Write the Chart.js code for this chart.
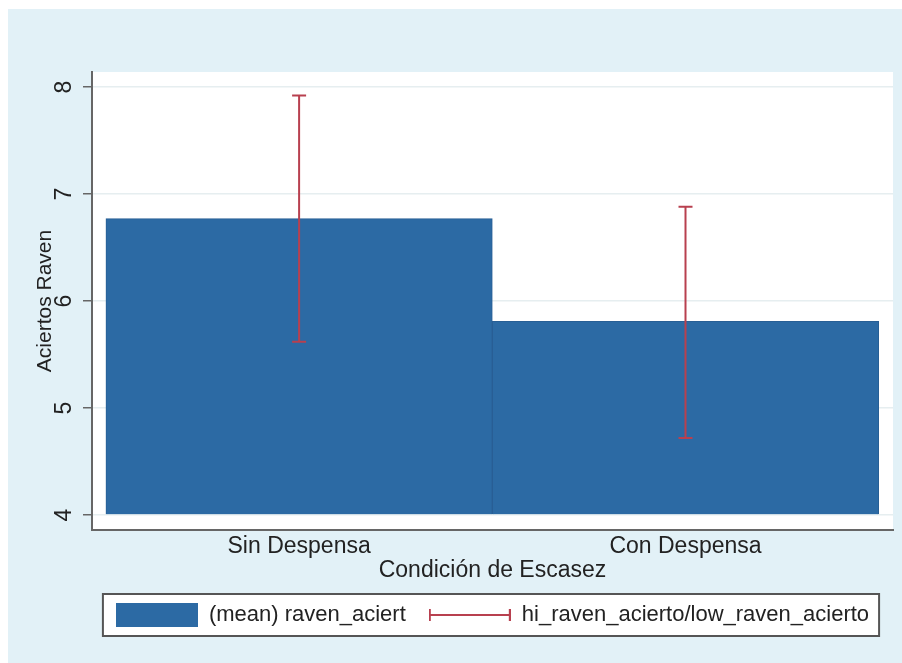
<!DOCTYPE html>
<html lang="es">
<head>
<meta charset="utf-8">
<title>Aciertos Raven por condición de escasez</title>
<script src="https://cdn.jsdelivr.net/npm/chart.js@4.4.1/dist/chart.umd.min.js"></script>
<style>
    html, body { margin: 0; padding: 0; background: #ffffff; }
    #wrap {
        position: absolute;
        left: 8px;
        top: 9px;
        width: 894px;
        height: 654px;
        background: #e2f1f7;
    }
    canvas { display: block; }
</style>
</head>
<body>
<div id="wrap"><canvas id="ravenChart" width="894" height="654"></canvas></div>
<script>
// Values
const categories = ['Sin Despensa', 'Con Despensa'];
const meanValues = [6.77, 5.81];
const hiValues = [7.92, 6.88];
const lowValues = [5.62, 4.72];
const yTicks = [4, 5, 6, 7, 8];
const legendLabels = ['(mean) raven_aciert', 'hi_raven_acierto/low_raven_acierto'];

// Colours
const BAR_COLOR = '#2c6aa4';
const BAR_EDGE = '#285f95';
const ERR_COLOR = '#b8404f';
const AXIS_COLOR = '#666666';
const GRID_COLOR = '#e6eef0';
const TEXT_COLOR = '#222222';

const FONT_FAMILY = "'Liberation Sans', Arial, Helvetica, sans-serif";
const baseFont = { family: FONT_FAMILY, size: 23 };

// Legend key: solid bar swatch
function makeSwatch() {
    const c = document.createElement('canvas');
    c.width = 82;
    c.height = 24;
    const g = c.getContext('2d');
    g.fillStyle = BAR_COLOR;
    g.fillRect(0, 0, 82, 24);
    return c;
}

// Legend key: horizontal capped line
function makeErrorKey() {
    const c = document.createElement('canvas');
    c.width = 82;
    c.height = 12;
    const g = c.getContext('2d');
    g.strokeStyle = ERR_COLOR;
    g.lineWidth = 2;
    g.beginPath();
    g.moveTo(1, 6); g.lineTo(81, 6);
    g.moveTo(1, 0); g.lineTo(1, 12);
    g.moveTo(81, 0); g.lineTo(81, 12);
    g.stroke();
    return c;
}

// White plot region + white legend panel
const plotBackground = {
    id: 'plotBackground',
    beforeDraw(chart) {
        const { ctx, chartArea } = chart;
        ctx.save();
        ctx.fillStyle = '#ffffff';
        ctx.fillRect(chartArea.left, chartArea.top, chartArea.right - chartArea.left, chartArea.bottom - chartArea.top);
        const frame = legendRect(chart);
        if (frame) ctx.fillRect(frame.x, frame.y, frame.w, frame.h);
        ctx.restore();
    },
    afterDraw(chart) {
        const frame = legendRect(chart);
        if (!frame) return;
        const ctx = chart.ctx;
        ctx.save();
        ctx.strokeStyle = '#555555';
        ctx.lineWidth = 2;
        ctx.strokeRect(frame.x, frame.y, frame.w, frame.h);
        ctx.restore();
    }
};

function legendRect(chart) {
    const boxes = chart.legend && chart.legend.legendHitBoxes;
    if (!boxes || !boxes.length) return null;
    const first = boxes[0];
    const last = boxes[boxes.length - 1];
    return {
        x: first.left - 13,
        y: first.top - 10,
        w: last.left + last.width - first.left + 23,
        h: first.height + 20
    };
}

// Hi/low range bars drawn on top of the means
const errorBars = {
    id: 'errorBars',
    afterDatasetsDraw(chart) {
        const { ctx, scales: { x, y } } = chart;
        const cap = 7;
        ctx.save();
        ctx.strokeStyle = ERR_COLOR;
        ctx.lineWidth = 2;
        categories.forEach((c, i) => {
            const px = x.getPixelForValue(i);
            const top = y.getPixelForValue(hiValues[i]);
            const bottom = y.getPixelForValue(lowValues[i]);
            ctx.beginPath();
            ctx.moveTo(px, top); ctx.lineTo(px, bottom);
            ctx.moveTo(px - cap, top); ctx.lineTo(px + cap, top);
            ctx.moveTo(px - cap, bottom); ctx.lineTo(px + cap, bottom);
            ctx.stroke();
        });
        ctx.restore();
    }
};

new Chart(document.getElementById('ravenChart'), {
    type: 'bar',
    data: {
        datasets: [{
            label: legendLabels[0],
            data: categories.map((c, i) => ({ x: i, y: meanValues[i] })),
            base: yTicks[0],
            backgroundColor: BAR_COLOR,
            borderColor: BAR_EDGE,
            borderWidth: 1,
            barPercentage: 1,
            categoryPercentage: 1
        }]
    },
    options: {
        responsive: false,
        devicePixelRatio: 1,
        animation: false,
        layout: { padding: { top: 63, right: 9, bottom: 27, left: 0 } },
        plugins: {
            tooltip: { enabled: false },
            legend: {
                position: 'bottom',
                fullSize: false,
                labels: {
                    usePointStyle: true,
                    pointStyleWidth: 82,
                    padding: 23,
                    font: { family: FONT_FAMILY, size: 22 },
                    color: TEXT_COLOR,
                    generateLabels: () => [
                        { text: legendLabels[0], pointStyle: makeSwatch(), fontColor: TEXT_COLOR, lineWidth: 0, hidden: false },
                        { text: legendLabels[1], pointStyle: makeErrorKey(), fontColor: TEXT_COLOR, lineWidth: 0, hidden: false }
                    ]
                }
            }
        },
        scales: {
            x: {
                type: 'linear',
                offset: false,
                min: -0.536,
                max: 1.537,
                afterBuildTicks: s => { s.ticks = categories.map((c, i) => ({ value: i })); },
                afterFit: s => { s.height = 51; },
                grid: { display: false, drawTicks: false },
                border: { color: AXIS_COLOR, width: 2 },
                ticks: {
                    callback: v => categories[v],
                    padding: 3,
                    maxRotation: 0,
                    font: baseFont,
                    color: TEXT_COLOR
                },
                title: {
                    display: true,
                    text: 'Condición de Escasez',
                    padding: { top: 0, bottom: -3 },
                    font: baseFont,
                    color: TEXT_COLOR
                }
            },
            y: {
                min: 3.86,
                max: 8.14,
                afterBuildTicks: s => { s.ticks = yTicks.map(v => ({ value: v })); },
                afterFit: s => { s.width = 84; },
                grid: { color: GRID_COLOR, lineWidth: 1.5, tickColor: AXIS_COLOR, tickLength: 9, tickWidth: 1.5 },
                border: { color: AXIS_COLOR, width: 2 },
                ticks: {
                    minRotation: 90,
                    maxRotation: 90,
                    crossAlign: 'center',
                    padding: 12,
                    font: baseFont,
                    color: TEXT_COLOR
                },
                title: {
                    display: true,
                    text: 'Aciertos Raven',
                    padding: { top: 25, bottom: 0 },
                    font: { family: FONT_FAMILY, size: 21 },
                    color: TEXT_COLOR
                }
            }
        }
    },
    plugins: [plotBackground, errorBars]
});
</script>
</body>
</html>
